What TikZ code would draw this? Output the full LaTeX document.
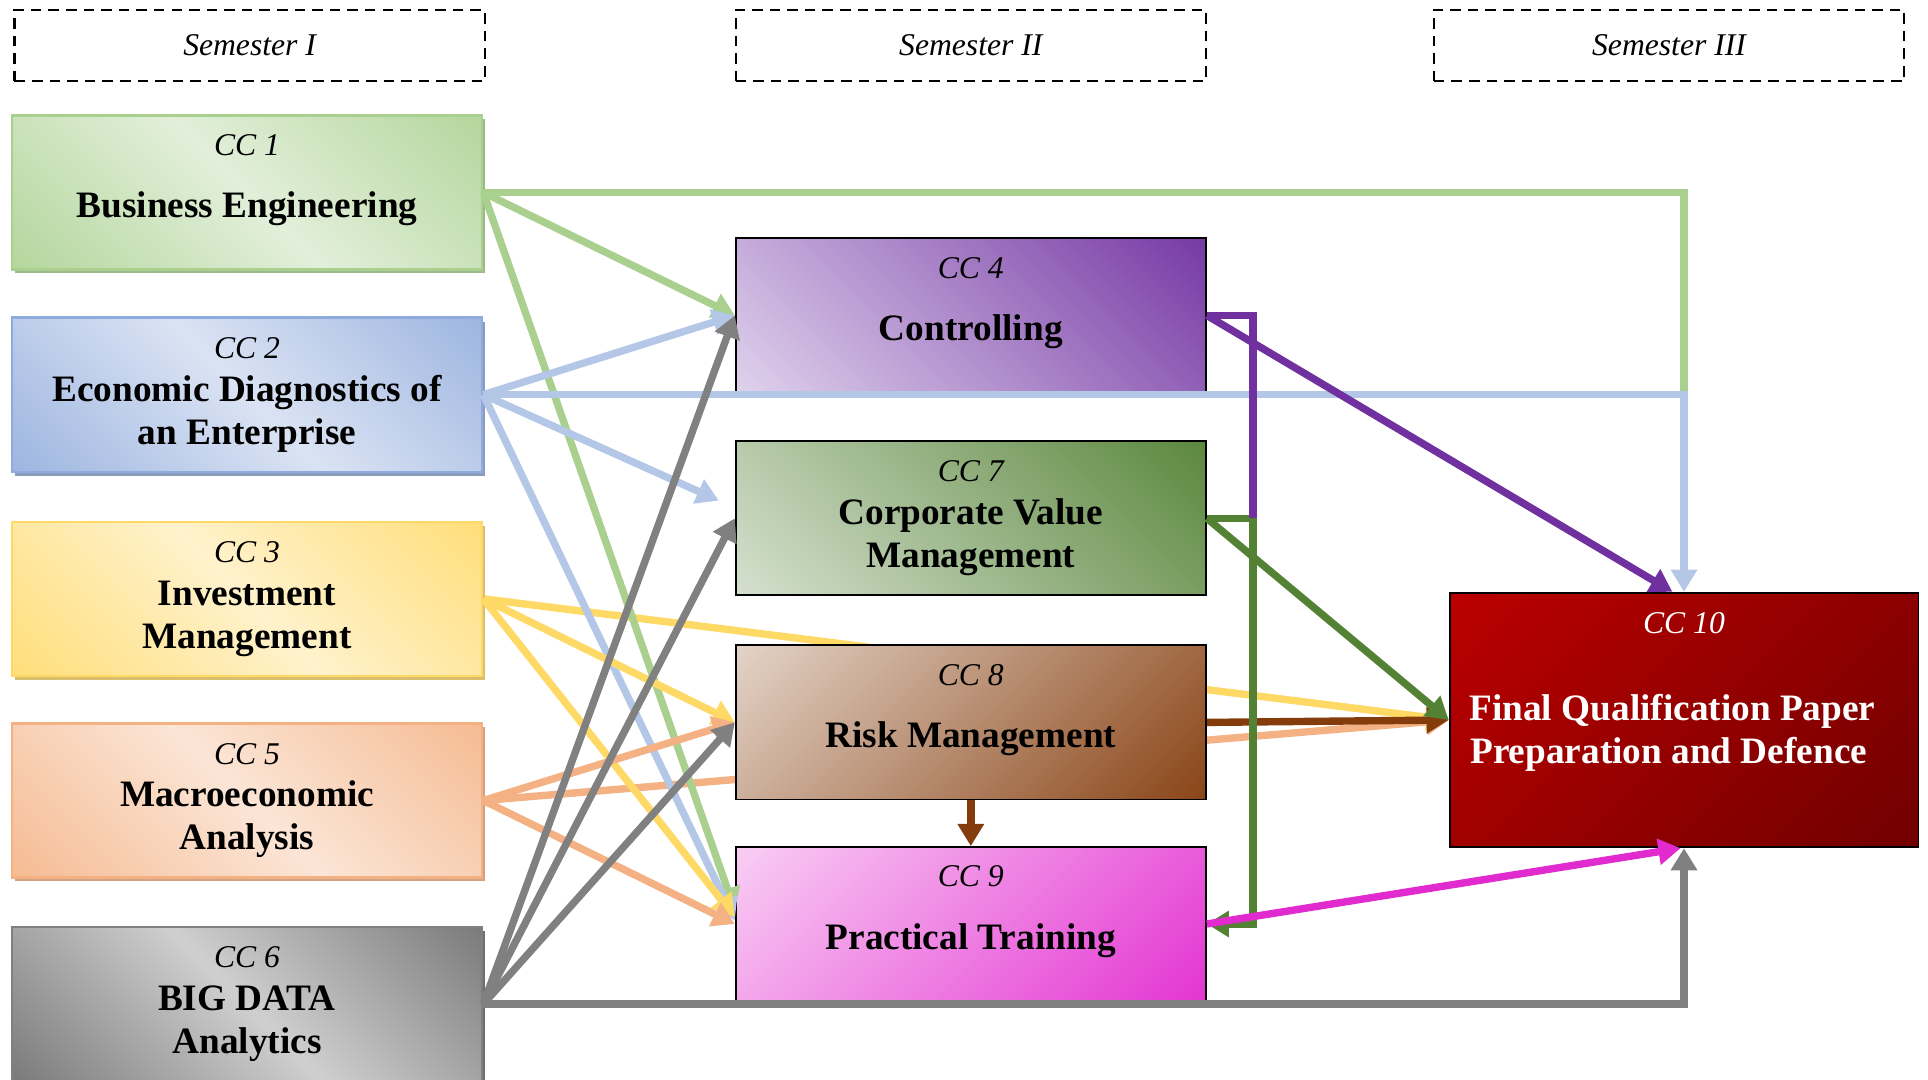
\documentclass[tikz,border=0pt]{standalone}
\usepackage{fontspec}
\setmainfont{Liberation Serif}
\usepackage{xcolor}
\usepackage{tikz}
\usetikzlibrary{positioning, arrows.meta, shadows}

\pgfdeclarelayer{background}
\pgfsetlayers{background,main}

\definecolor{cc1dark}{HTML}{A9D08E}
\definecolor{cc1light}{HTML}{E2EFDA}
\definecolor{cc2dark}{HTML}{8FAADC}
\definecolor{cc2light}{HTML}{DAE3F3}
\definecolor{cc2line}{HTML}{B4C7E7}
\definecolor{cc3dark}{HTML}{FFD966}
\definecolor{cc3light}{HTML}{FFF2CC}
\definecolor{cc5dark}{HTML}{F4B183}
\definecolor{cc5light}{HTML}{FBE5D6}
\definecolor{cc6dark}{HTML}{666666}
\definecolor{cc6light}{HTML}{CFCFCF}
\definecolor{cc6line}{HTML}{808080}
\definecolor{cc4dark}{HTML}{7030A0}
\definecolor{cc4light}{HTML}{E6DCF1}
\definecolor{cc7dark}{HTML}{548235}
\definecolor{cc7light}{HTML}{DDE6D8}
\definecolor{cc8dark}{HTML}{843C0C}
\definecolor{cc8light}{HTML}{E9DCD3}
\definecolor{cc9dark}{HTML}{E22BCF}
\definecolor{cc9light}{HTML}{FAD7F6}
\definecolor{cc10dark}{HTML}{6C0000}
\definecolor{cc10light}{HTML}{C00000}

% shadings: light band between two dark corners, and plain corner-to-corner
\colorlet{bandDark}{black}\colorlet{bandLight}{white}
\colorlet{diagDark}{black}\colorlet{diagLight}{white}
\pgfdeclareverticalshading[bandDark,bandLight]{cornerband}{100bp}{color(0bp)=(bandDark); color(6bp)=(bandDark); color(50bp)=(bandLight); color(94bp)=(bandDark); color(100bp)=(bandDark)}
\pgfdeclareverticalshading[diagDark,diagLight]{diagband}{100bp}{color(0bp)=(diagLight); color(10bp)=(diagLight); color(90bp)=(diagDark); color(100bp)=(diagDark)}
\tikzset{
  band colors/.code 2 args={\colorlet{bandDark}{#1}\colorlet{bandLight}{#2}},
  diag colors/.code 2 args={\colorlet{diagDark}{#1}\colorlet{diagLight}{#2}}
}

\newcommand{\ccnum}[1]{{\fontsize{9pt}{12.2pt}\selectfont\mdseries\itshape CC #1}}

\begin{document}
\begin{tikzpicture}[x=0.01cm, y=-0.01cm]
\useasboundingbox (0, 0) rectangle (1928, 1079);
% style: SemesterBox_style
\tikzstyle{SemesterBox_style}=[draw=black,line width=0.6pt,dash pattern=on 3pt off 2pt,minimum width=4.70cm,minimum height=0.71cm,font=\fontsize{9pt}{11pt}\selectfont\itshape]
% style: Course_style
\tikzstyle{Course_style}=[rectangle,minimum width=4.70cm,minimum height=1.54cm,align=center,inner sep=2pt,font=\fontsize{10.6pt}{12.2pt}\selectfont\bfseries]
% style: LeftCourse_style
\tikzstyle{LeftCourse_style}=[Course_style,line width=0.7pt,shade,shading=cornerband,shading angle=-45]
% style: MiddleCourse_style
\tikzstyle{MiddleCourse_style}=[Course_style,draw=black,line width=0.5pt,shade,shading=diagband]
% style: leftShadow
\tikzstyle{leftShadow}=[drop shadow={shadow xshift=0.9pt,shadow yshift=-1.1pt,opacity=1,fill=#1!70!gray}]
% style: cc_1_fill .. cc_6_fill
\tikzstyle{cc_1_fill}=[draw=cc1dark,band colors={cc1dark}{cc1light},leftShadow=cc1dark]
\tikzstyle{cc_2_fill}=[draw=cc2dark,band colors={cc2dark}{cc2light},leftShadow=cc2dark]
\tikzstyle{cc_3_fill}=[draw=cc3dark,band colors={cc3dark}{cc3light},leftShadow=cc3dark]
\tikzstyle{cc_5_fill}=[draw=cc5dark,band colors={cc5dark}{cc5light},leftShadow=cc5dark]
\tikzstyle{cc_6_fill}=[draw=cc6line,band colors={cc6dark}{cc6light},leftShadow=cc6dark]
% style: cc_4_fill .. cc_10_fill
\tikzstyle{cc_4_fill}=[diag colors={cc4dark}{cc4light},shading angle=-45]
\tikzstyle{cc_7_fill}=[diag colors={cc7dark}{cc7light},shading angle=-45]
\tikzstyle{cc_8_fill}=[diag colors={cc8dark}{cc8light},shading angle=-135]
\tikzstyle{cc_9_fill}=[diag colors={cc9dark}{cc9light},shading angle=-135]
\tikzstyle{cc_10_fill}=[diag colors={cc10dark}{cc10light},shading angle=-135]
% style: courseEdge
\tikzstyle{courseEdge}=[line width=2.1pt,-{Triangle[length=6.3pt,width=7.2pt]}]
% style: plainEdge
\tikzstyle{plainEdge}=[line width=2.1pt]

% node group: semesters
\node[SemesterBox_style] (sem_1) at (249.6, 45.5) {Semester I};
\node[SemesterBox_style] (sem_2) at (970.8, 45.5) {Semester II};
\node[SemesterBox_style] (sem_3) at (1669, 45.5) {Semester III};
% end of node group: semesters

% node group: semester_1_group
% node: cc_1
\node[LeftCourse_style, cc_1_fill] (cc_1) at (247, 192.5)
    {\ccnum{1}\\[5.5pt]Business Engineering\\[-2.8pt]\mbox{}};
% node: cc_2
\node[LeftCourse_style, cc_2_fill] (cc_2) at (247, 394.7)
    {\ccnum{2}\\Economic Diagnostics of\\an Enterprise};
% node: cc_3
\node[LeftCourse_style, cc_3_fill] (cc_3) at (247, 598.8)
    {\ccnum{3}\\Investment\\Management};
% node: cc_5
\node[LeftCourse_style, cc_5_fill] (cc_5) at (247, 800.5)
    {\ccnum{5}\\Macroeconomic\\Analysis};
% node: cc_6
\node[LeftCourse_style, cc_6_fill] (cc_6) at (247, 1004)
    {\ccnum{6}\\BIG DATA\\Analytics};
% end of node group: semester_1_group

% node group: semester_2_group
% node: cc_4
\node[MiddleCourse_style, cc_4_fill] (cc_4) at (970.8, 315.4)
    {\ccnum{4}\\[5.5pt]Controlling\\[-2.8pt]\mbox{}};
% node: cc_7
\node[MiddleCourse_style, cc_7_fill] (cc_7) at (970.8, 518.3)
    {\ccnum{7}\\Corporate Value\\Management};
% node: cc_8
\node[MiddleCourse_style, cc_8_fill] (cc_8) at (970.8, 722.4)
    {\ccnum{8}\\[5.5pt]Risk Management\\[-2.8pt]\mbox{}};
% node: cc_9
\node[MiddleCourse_style, cc_9_fill] (cc_9) at (970.8, 924)
    {\ccnum{9}\\[5.5pt]Practical Training\\[-2.8pt]\mbox{}};
% end of node group: semester_2_group

% node: cc_10
\node[MiddleCourse_style, cc_10_fill, minimum height=2.545cm, minimum width=4.685cm, text=white] (cc_10) at (1684, 720)
    {\ccnum{10}\\[12.4pt]Final Qualification Paper\hspace*{6.6pt}\mbox{}\\Preparation and Defence\hspace*{8.7pt}\mbox{}\\[6pt]\mbox{}};

\coordinate (feedback_bend) at (1253, 0);

% edges passing behind cc_8
\begin{pgfonlayer}{background}
% edge from cc_3 to cc_10
\draw[courseEdge, cc3dark] (cc_3.east) -- (cc_10.west);
% edge from cc_5 to cc_10
\draw[courseEdge, cc5dark] (cc_5.east) -- (cc_10.west);
\end{pgfonlayer}

% edge from cc_1 to cc_10
\draw[plainEdge, cc1dark] (cc_1.east) -| (cc_2.east -| cc_10.north);
% edge from cc_1 to cc_4
\draw[courseEdge, cc1dark] (cc_1.east) -- (cc_4.west);
% edge from cc_1 to cc_9
\draw[courseEdge, cc1dark] (cc_1.east) -- ([yshift=4pt]cc_9.west);

% edge from cc_2 to cc_10
\draw[courseEdge, cc2line] (cc_2.east) -| (cc_10.north);
% edge from cc_2 to cc_4
\draw[courseEdge, cc2line] (cc_2.east) -- (cc_4.west);
% edge from cc_2 to cc_7
\draw[courseEdge, cc2line, shorten >=5pt] (cc_2.east) -- ([yshift=3pt]cc_7.west);
% edge from cc_2 to cc_9
\draw[courseEdge, cc2line] (cc_2.east) -- ([yshift=1pt]cc_9.west);

% edge from cc_3 to cc_8
\draw[courseEdge, cc3dark] (cc_3.east) -- (cc_8.west);
% edge from cc_3 to cc_9
\draw[courseEdge, cc3dark] (cc_3.east) -- ([yshift=2pt]cc_9.west);

% edge from cc_5 to cc_8
\draw[courseEdge, cc5dark] (cc_5.east) -- (cc_8.west);
% edge from cc_5 to cc_9
\draw[courseEdge, cc5dark] (cc_5.east) -- (cc_9.west);

% edge from cc_6 to cc_10
\draw[courseEdge, cc6line] (cc_6.east) -| (cc_10.south);
% edge from cc_6 to cc_4
\draw[courseEdge, cc6line] (cc_6.east) -- (cc_4.west);
% edge from cc_6 to cc_7
\draw[courseEdge, cc6line] (cc_6.east) -- (cc_7.west);
% edge from cc_6 to cc_8
\draw[courseEdge, cc6line] (cc_6.east) -- (cc_8.west);

% edge from cc_8 to cc_10
\draw[courseEdge, cc8dark] (cc_8.east) -- (cc_10.west);
% edge from cc_8 to cc_9
\draw[courseEdge, cc8dark] (cc_8.south) -- (cc_9.north);

% edge from cc_7 to cc_10
\draw[courseEdge, cc7dark] (cc_7.east) -- (cc_10.west);
% edge from cc_7 to cc_9
\draw[courseEdge, cc7dark] (cc_7.east) -- (feedback_bend |- cc_7.east) -- (feedback_bend |- cc_9.east) -- (cc_9.east);

% edge from cc_4 to cc_9 (joins cc_7 line)
\draw[plainEdge, cc4dark] (cc_4.east) -| (feedback_bend |- cc_7.east);
% edge from cc_4 to cc_10
\draw[courseEdge, cc4dark] (cc_4.east) -- ([xshift=-3.3pt]cc_10.north);

% edge from cc_9 to cc_10
\draw[courseEdge, cc9dark] (cc_9.east) -- ([xshift=-1pt]cc_10.south);

\end{tikzpicture}
\end{document}
